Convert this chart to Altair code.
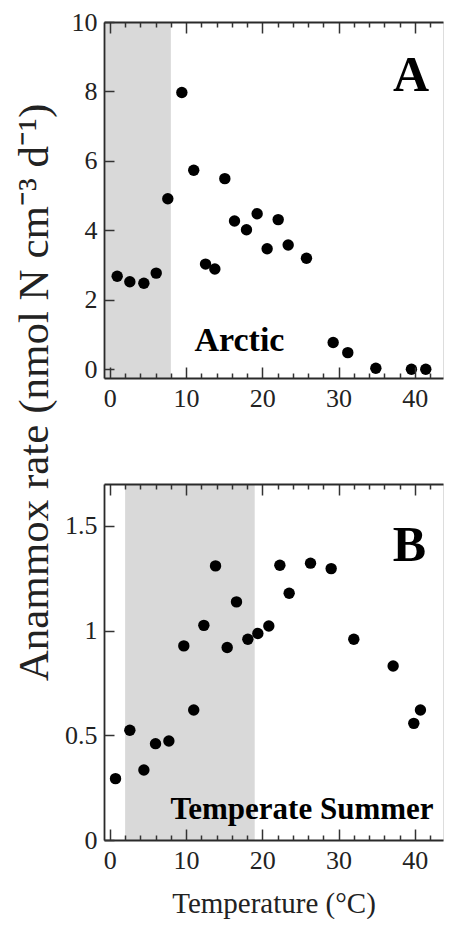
import altair as alt
import pandas as pd

# ---- data ----
temp_a = [0.96, 2.62, 4.46, 6.08, 7.6, 9.44, 11.0, 12.55, 13.77, 15.08, 16.35,
          17.92, 19.32, 20.63, 22.08, 23.39, 25.79, 29.29, 31.21, 34.89, 39.56, 41.44]
rate_a = [2.68, 2.52, 2.48, 2.77, 4.91, 7.97, 5.73, 3.03, 2.89, 5.49, 4.27,
          4.02, 4.48, 3.47, 4.31, 3.58, 3.20, 0.77, 0.48, 0.03, 0.0, 0.0]

temp_b = [0.74, 2.62, 4.46, 5.99, 7.74, 9.7, 11.0, 12.33, 13.86, 15.39, 16.61,
          18.10, 19.41, 20.85, 22.30, 23.52, 26.32, 29.03, 32.0, 37.16, 39.87, 40.74]
rate_b = [0.293, 0.524, 0.334, 0.46, 0.473, 0.927, 0.621, 1.025, 1.309, 0.919, 1.137,
          0.959, 0.986, 1.022, 1.312, 1.178, 1.322, 1.296, 0.959, 0.831, 0.557, 0.621]

x_domain = [-0.77, 43.7]
ya_domain = [-0.25, 10]
yb_domain = [0, 1.7]

shade_a = [-0.77, 8]
shade_b = [2, 19]

x_major = [0, 10, 20, 30, 40]
x_minor = [2, 4, 6, 8, 12, 14, 16, 18, 22, 24, 26, 28, 32, 34, 36, 38, 42]
ya_ticks = [0, 2, 4, 6, 8, 10]
yb_ticks = [0, 0.5, 1, 1.5]

letter_a = ["A"]
letter_a_x = [39.5]
letter_a_y = [8.0]
region_a = ["Arctic"]
region_a_x = [17.0]
region_a_y = [0.52]

letter_b = ["B"]
letter_b_x = [39.3]
letter_b_y = [1.33]
region_b = ["Temperate Summer"]
region_b_x = [25.2]
region_b_y = [0.1]

FONT = "Liberation Serif"
W, H = 339, 356
TICKC = "#333333"
FRAMEC = "#2a2a2a"


def panel(temps, rates, shade, ydom, yticks, letters, regions, xtitle, ytitle):
    xs = alt.Scale(domain=x_domain, nice=False, zero=False)
    ys = alt.Scale(domain=ydom, nice=False, zero=False)
    pts = pd.DataFrame({"t": temps, "r": rates})
    shade_df = pd.DataFrame({"x0": [shade[0]], "x1": [shade[1]],
                             "y0": [ydom[0]], "y1": [ydom[1]]})

    xlab_kwargs = dict(values=x_major, ticks=False, tickSize=0, domain=True,
                       domainColor=FRAMEC, domainWidth=1.8, grid=False,
                       labelFont=FONT, labelFontSize=26, labelPadding=7, labelColor="#222222",
                       labelFlush=False, zindex=1)
    if xtitle:
        xlab_kwargs.update(title=xtitle, titleFont=FONT, titleFontSize=29,
                           titleFontWeight="normal", titleColor="#222222",
                           titleY=72, titleBaseline="alphabetic")
    else:
        xlab_kwargs.update(title=None)

    ylab_kwargs = dict(values=yticks, ticks=False, tickSize=0, domain=True,
                       domainColor=FRAMEC, domainWidth=1.8, grid=False,
                       labelFont=FONT, labelFontSize=26, labelPadding=7, labelColor="#222222",
                       labelFlush=False, format="~r", zindex=1)
    if ytitle:
        ylab_kwargs.update(title=ytitle, titleFont=FONT, titleFontSize=43,
                           titleFontWeight="normal", titleColor="#222222",
                           titleAngle=270, titleX=-57, titleY=370,
                           titleAlign="center", titleBaseline="alphabetic")
    else:
        ylab_kwargs.update(title=None)

    rect = alt.Chart(shade_df).mark_rect(color="#d9d9d9").encode(
        x=alt.X("x0:Q", scale=xs, axis=alt.Axis(**xlab_kwargs)),
        x2="x1:Q",
        y=alt.Y("y0:Q", scale=ys, axis=alt.Axis(**ylab_kwargs)),
        y2="y1:Q",
    )

    tick_common = dict(labels=False, grid=False, title=None,
                       tickColor=TICKC, tickWidth=1.5, zindex=1)

    points = alt.Chart(pts).mark_circle(size=130, color="black", opacity=1).encode(
        x=alt.X("t:Q", scale=xs, axis=alt.Axis(orient="top", offset=-H, values=x_major,
                                                tickSize=11, domain=False, **tick_common)),
        y=alt.Y("r:Q", scale=ys, axis=alt.Axis(orient="right", offset=-W, values=yticks,
                                                tickSize=10, domain=False, **tick_common)),
    )

    def tick_layer(orient, vals, size, dom):
        kw = dict(orient=orient, offset=-H, values=vals, tickSize=size, domain=dom)
        if dom:
            kw.update(domainColor=FRAMEC, domainWidth=1.8)
        return alt.Chart(pts).mark_circle(opacity=0).encode(
            x=alt.X("t:Q", scale=xs, axis=alt.Axis(**kw, **tick_common)),
            y=alt.Y("r:Q", scale=ys, axis=None),
        )

    l3 = tick_layer("top", x_minor, 5, False)
    l4 = tick_layer("bottom", x_major, 11, True)
    l5 = tick_layer("bottom", x_minor, 5, False)

    lt, lx, ly, lsize = letters
    let_df = pd.DataFrame({"label": lt, "x": lx, "y": ly})
    letter = alt.Chart(let_df).mark_text(font=FONT, fontSize=lsize, fontWeight="bold",
                                         color="black", align="center",
                                         baseline="alphabetic").encode(
        x=alt.X("x:Q", scale=xs, axis=None),
        y=alt.Y("y:Q", scale=ys, axis=None),
        text="label:N",
    )
    rt, rx, ry, rsize = regions
    reg_df = pd.DataFrame({"label": rt, "x": rx, "y": ry})
    region = alt.Chart(reg_df).mark_text(font=FONT, fontSize=rsize, fontWeight="bold",
                                         color="black", align="center",
                                         baseline="alphabetic").encode(
        x=alt.X("x:Q", scale=xs, axis=None),
        y=alt.Y("y:Q", scale=ys, axis=None),
        text="label:N",
    )

    return alt.layer(rect, points, l3, l4, l5, letter, region).resolve_axis(
        x="independent", y="independent"
    ).properties(width=W, height=H)


panel_a = panel(temp_a, rate_a, shade_a, ya_domain, ya_ticks,
                (letter_a, letter_a_x, letter_a_y, 50),
                (region_a, region_a_x, region_a_y, 34),
                None, "Anammox rate (nmol N cm\u207b\u00b3 d\u207b\u00b9)")
panel_b = panel(temp_b, rate_b, shade_b, yb_domain, yb_ticks,
                (letter_b, letter_b_x, letter_b_y, 50),
                (region_b, region_b_x, region_b_y, 31),
                "Temperature (\u00b0C)", None)

chart = alt.vconcat(panel_a, panel_b, spacing=106, bounds="flush").properties(
    padding={"left": 4, "top": 0, "right": 0, "bottom": 0}
).configure_view(stroke="#9a9a9a", strokeWidth=1).configure(background="white")

chart.save("out.html", embed_options={"renderer": "svg", "actions": False})
